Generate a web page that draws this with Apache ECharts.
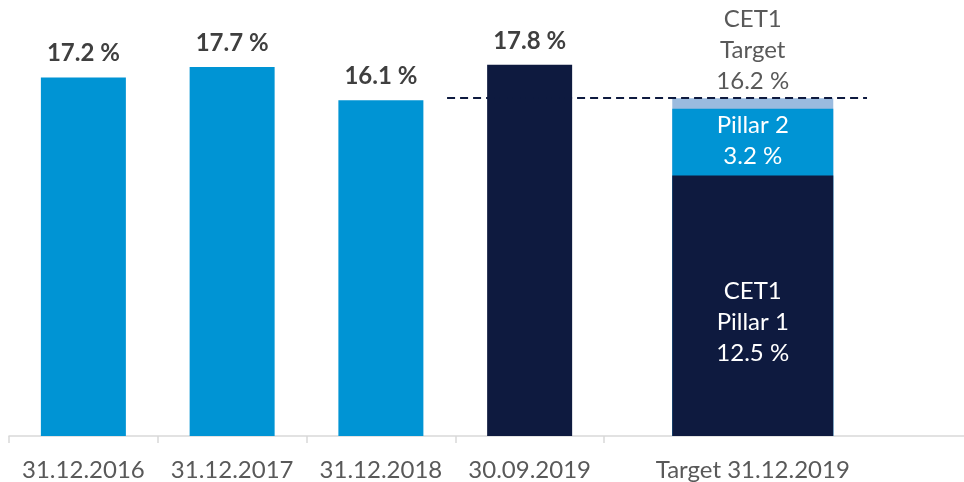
<!DOCTYPE html>
<html lang="en">
<head>
    <meta charset="UTF-8">
    <title>CET1 ratio</title>
    <script src="https://cdn.jsdelivr.net/npm/echarts@6/dist/echarts.min.js"></script>
    <style>
        html, body { margin: 0; padding: 0; background: #fff; }
        #chart { width: 964px; height: 482px; }
    </style>
</head>
<body>
<div id="chart"></div>
<script>
    // data
    const categories = ['31.12.2016', '31.12.2017', '31.12.2018', '30.09.2019', 'Target 31.12.2019'];
    const ratios = [17.2, 17.7, 16.1, 17.8];
    const targetPillar1 = 12.5;
    const targetPillar2 = 3.2;
    const targetBuffer = 0.5;
    const targetTotal = 16.2;

    const LIGHT_BLUE = '#0094d4';
    const NAVY = '#0e1a3f';
    const PALE = '#9bbbdf';
    const GREY = '#595959';
    const FONT = 'Lato';

    // x positions on a hidden value scale: one slot per historic date, target spans two
    const xPos = categories.map(function (c, i) { return i < ratios.length ? i + 0.5 : i + 1; });
    const targetX = xPos[xPos.length - 1];

    const histData = ratios.map(function (v, i) {
        return {
            value: [xPos[i], v],
            itemStyle: {color: i === ratios.length - 1 ? NAVY : LIGHT_BLUE}
        };
    });

    // target bar drawn as overlapping columns, tallest first
    const cumP2 = targetPillar1 + targetPillar2;
    const cumAll = cumP2 + targetBuffer;

    let myChart = echarts.init(document.getElementById('chart'));
    let xCommon = {
        type: 'value',
        min: 0,
        max: 6.42,
        splitLine: {show: false}
    };
    myChart.setOption({
        animation: false,
        grid: {left: 9, right: 0, top: 19, bottom: 46},
        xAxis: [
            Object.assign({}, xCommon, {
                axisLine: {show: true, lineStyle: {color: '#d9d9d9', width: 1.5}},
                axisTick: {show: true, length: 7, customValues: [0, 1, 2, 3, 4], lineStyle: {color: '#d9d9d9', width: 1.5}},
                axisLabel: {
                    customValues: xPos,
                    margin: 22,
                    color: GREY,
                    fontFamily: FONT,
                    fontSize: 24,
                    formatter: function (val) {
                        let idx = xPos.indexOf(val);
                        return idx >= 0 ? categories[idx] : '';
                    }
                }
            }),
            Object.assign({}, xCommon, {show: false})
        ],
        yAxis: {type: 'value', show: false, min: 0, max: 20},
        series: [
            {
                name: 'CET1 ratio',
                type: 'bar',
                xAxisIndex: 0,
                barWidth: 85,
                data: histData,
                label: {
                    show: true,
                    position: 'top',
                    distance: 12,
                    color: '#3f3f3f',
                    fontFamily: FONT,
                    fontWeight: 'bold',
                    fontSize: 24,
                    formatter: function (p) { return p.value[1].toFixed(1) + ' %'; }
                }
            },
            {
                name: 'Target',
                type: 'bar',
                xAxisIndex: 1,
                barWidth: 161,
                barGap: '-100%',
                itemStyle: {color: PALE},
                data: [[targetX, cumAll]],
                label: {
                    show: true,
                    position: 'top',
                    distance: 1,
                    color: GREY,
                    fontFamily: FONT,
                    fontSize: 24,
                    lineHeight: 31,
                    formatter: 'CET1\nTarget\n' + targetTotal.toFixed(1) + ' %'
                },
                markLine: {
                    silent: true,
                    symbol: 'none',
                    label: {show: false},
                    lineStyle: {color: NAVY, width: 2, type: [8, 5]},
                    data: [[{coord: [2.945, targetTotal]}, {coord: [5.768, targetTotal]}]]
                }
            },
            {
                name: 'Pillar 2',
                type: 'bar',
                xAxisIndex: 1,
                barWidth: 161,
                barGap: '-100%',
                itemStyle: {color: LIGHT_BLUE},
                data: [[targetX, cumP2]],
                label: {
                    show: true,
                    position: 'insideTop',
                    distance: 1,
                    color: '#fff',
                    fontFamily: FONT,
                    fontSize: 24,
                    lineHeight: 31,
                    formatter: 'Pillar 2\n' + targetPillar2.toFixed(1) + ' %'
                }
            },
            {
                name: 'Pillar 1',
                type: 'bar',
                xAxisIndex: 1,
                barWidth: 161,
                barGap: '-100%',
                itemStyle: {color: NAVY},
                data: [[targetX, targetPillar1]],
                label: {
                    show: true,
                    position: 'inside',
                    offset: [0, 17],
                    color: '#fff',
                    fontFamily: FONT,
                    fontSize: 24,
                    lineHeight: 31,
                    formatter: 'CET1\nPillar 1\n' + targetPillar1.toFixed(1) + ' %'
                }
            }
        ]
    });
</script>
</body>
</html>
